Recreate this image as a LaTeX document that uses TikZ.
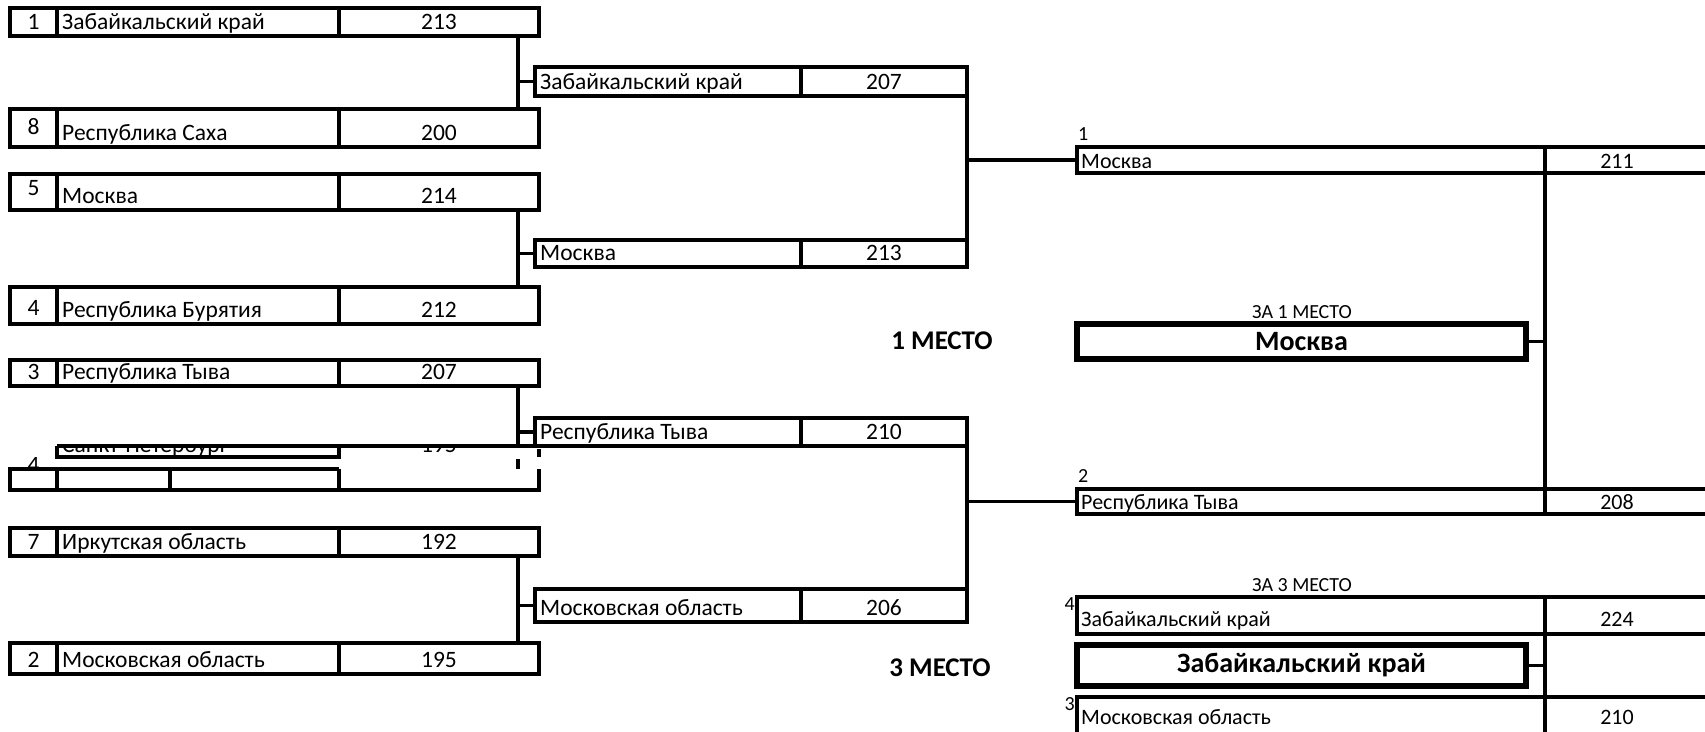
\documentclass[tikz,border=0pt]{standalone}
\usepackage{fontspec}
\setmainfont{Carlito}
\tikzset{row/.style={draw,line width=3.2pt,rectangle,inner sep=0pt,outer sep=0pt,anchor=north west},
  big/.style={draw,line width=6pt,rectangle,inner sep=0pt,outer sep=0pt,anchor=north west,
    font=\bfseries\fontsize{28}{30}\selectfont},
  link/.style={line width=3.2pt},
  txt/.style={inner sep=0pt,font=\fontsize{23.5}{26}\selectfont},
  fin/.style={inner sep=0pt,font=\fontsize{22}{24}\selectfont},
  small/.style={inner sep=0pt,font=\fontsize{20}{22}\selectfont},
  place/.style={inner sep=0pt,font=\bfseries\fontsize{27}{30}\selectfont}}

\begin{document}
\begin{tikzpicture}[x=1pt,y=-1pt]
  \useasboundingbox (0,0) rectangle (1705,731);
  \clip (0,0) rectangle (1705,731);
  \coordinate (xS) at (57,0); \coordinate (xD) at (339,0); \coordinate (k1) at (518,0);
  \coordinate (xE) at (801,0); \coordinate (k2) at (967,0); \coordinate (k3) at (1545,0);

  % first round
  \foreach \nm/\ya/\yb/\sd/\of/\team/\pts in {r1/8/36/1/7/Забайкальский край/213,
      r8/109/147/8/13/Республика Саха/200, r5/174/210/5/15/Москва/214,
      r4/287/324/4/9/Республика Бурятия/212, r3/360/386/3/7/Республика Тыва/207,
      r7/528/556/7/7/Иркутская область/192, r2/643/674/2/7/Московская область/195}{
    \node[row,minimum width=529,minimum height={\yb-\ya}] (\nm) at (10,\ya) {};
    \draw[link] (\nm.north -| xS) -- (\nm.south -| xS) (\nm.north -| xD) -- (\nm.south -| xD);
    \node[txt,anchor=base] (\nm-s) at (33.5,{\yb-\of}) {\sd};
    \node[txt,anchor=base west] (\nm-t) at (62,{\yb-7}) {\team};
    \node[txt,anchor=base] (\nm-p) at (439,{\yb-7}) {\pts};
  }

  % half of a hidden row
  \begin{scope}
    \clip (57,446) rectangle (539,457);
    \node[txt,anchor=base west] (sp-t) at (62,452) {Санкт-Петербург};
    \node[txt,anchor=base] (sp-p) at (439,452) {195};
  \end{scope}
  \draw[link] (57,446) -- (57,457) -- (339,457) -- (339,446);
  \draw[link] (539,449) -- (539,457);
  \draw[link] (518,459) -- (518,469);
  \draw[link] (339,469) -- (10,469) -- (10,490) -- (539,490) -- (539,469);
  \foreach \x in {57,170,339}{\draw[link] (\x,469) -- (\x,490);}
  \begin{scope}
    \clip (10,457) rectangle (57,468);
    \node[txt,anchor=base] (r6-s) at (33.5,472) {4};
  \end{scope}

  % semifinals
  \foreach \nm/\ya/\yb/\team/\pts in {q1/67/96/Забайкальский край/207, q2/240/267/Москва/213,
      q3/418/446/Республика Тыва/210, q4/589/622/Московская область/206}{
    \node[row,minimum width=432,minimum height={\yb-\ya}] (\nm) at (535,\ya) {};
    \draw[link] (\nm.north -| xE) -- (\nm.south -| xE);
    \node[txt,anchor=base west] (\nm-t) at (540,{\yb-7}) {\team};
    \node[txt,anchor=base] (\nm-p) at (884,{\yb-7}) {\pts};
  }
  \draw[link] (xS |- q3.south) -- (q3.south west);

  % finals
  \foreach \nm/\ya/\yb/\of/\team/\pts in {f1/147/173/5/Москва/211, f2/489/514/5/Республика Тыва/208,
      f3/597/634/8/Забайкальский край/224, f4/697/735/11/Московская область/210}{
    \node[row,minimum width=640,minimum height={\yb-\ya}] (\nm) at (1077,\ya) {};
    \draw[link] (\nm.north -| k3) -- (\nm.south -| k3);
    \node[fin,anchor=base west] (\nm-t) at (1081,{\yb-\of}) {\team};
    \node[fin,anchor=base] (\nm-p) at (1617,{\yb-\of}) {\pts};
  }
  \node[small,anchor=base west] (f1-s) at (1078,140) {1};
  \node[small,anchor=base west] (f2-s) at (1078,482) {2};
  \node[small,anchor=north east] (f3-s) at (1075,597) {4};
  \node[small,anchor=north east] (f4-s) at (1075,697) {3};

  \node[small] (h1) at (1302,312) {ЗА 1 МЕСТО};
  \node[small] (h3) at (1302,585) {ЗА 3 МЕСТО};
  \node[big,minimum width=449,minimum height=35] (w1) at (1077,324) {Москва};
  \node[big,minimum width=449,minimum height=41] (w3) at (1077,645) {Забайкальский край};
  \node[place] (m1) at (942,341) {1 МЕСТО};
  \node[place] (m3) at (940,668) {3 МЕСТО};

  % connectors
  \draw[link] (r1.south -| k1) -- (r8.north -| k1) (k1 |- q1.west) -- (q1.west);
  \draw[link] (r5.south -| k1) -- (r4.north -| k1) (k1 |- q2.west) -- (q2.west);
  \draw[link] (r3.south -| k1) -- (k1 |- q3.south) (k1 |- q3.west) -- (q3.west);
  \draw[link] (r7.south -| k1) -- (r2.north -| k1) (k1 |- q4.west) -- (q4.west);
  \draw[link] (q1.south -| k2) -- (q2.north -| k2) (k2 |- f1.west) -- (f1.west);
  \draw[link] (q3.south -| k2) -- (q4.north -| k2) (k2 |- f2.west) -- (f2.west);
  \draw[link] (f1.south -| k3) -- (f2.north -| k3) (w1.east) -- (w1.east -| k3);
  \draw[link] (f3.south -| k3) -- (f4.north -| k3) (w3.east) -- (w3.east -| k3);
\end{tikzpicture}
\end{document}
